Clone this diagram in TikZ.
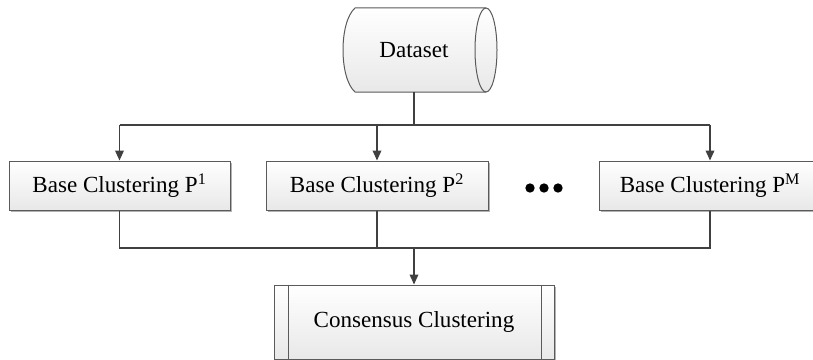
\documentclass[tikz,border=0pt]{standalone}
\usepackage{fontspec}
\setmainfont{Liberation Serif}
\usetikzlibrary{arrows.meta,shadows}
\definecolor{linec}{HTML}{404040}
\definecolor{edgec}{HTML}{5A5A5A}
\begin{document}
\begin{tikzpicture}[x=0.75pt,y=-0.75pt,
  every node/.style={font=\fontsize{17.3}{20}\selectfont, inner sep=0pt},
  boxst/.style={draw=edgec, line width=0.75pt, top color=white, bottom color=black!9,
    drop shadow={shadow xshift=1.5pt, shadow yshift=-1.5pt, fill=black!30, opacity=1}},
  conn/.style={draw=linec, line width=1.1pt},
  arr/.style={conn, -{Triangle[length=7.5pt,width=6.5pt]}}]
\useasboundingbox (0,0) rectangle (813,360);

% Dataset cylinder
\draw[edgec, line width=0.75pt, top color=white, bottom color=black!9]
  (355,8) -- (486,8) arc (-90:90:11 and 42) -- (355,92)
  .. controls (339,78) and (339,22) .. (355,8) -- cycle;
\draw[edgec, line width=0.75pt] (486,8) arc (270:90:11 and 42);
\node[minimum width=60pt, minimum height=84*0.75pt] (ds) at (414,50) {Dataset};

% Base clusterings
\node[boxst, minimum width=221*0.75pt, minimum height=49*0.75pt] (b1) at (119.5,185.5) {Base Clustering P\textsuperscript{1}};
\node[boxst, minimum width=222*0.75pt, minimum height=49*0.75pt] (b2) at (377,185.5) {Base Clustering P\textsuperscript{2}};
\node[boxst, minimum width=222*0.75pt, minimum height=49*0.75pt] (bM) at (710,185.5) {Base Clustering P\textsuperscript{M}};

% dots
\node[minimum size=0pt] (dots) at (544,188) {};
\fill (530,188) circle[radius=3.5pt];
\fill (dots) circle[radius=3.5pt];
\fill (558,188) circle[radius=3.5pt];

% Consensus
\node[boxst, minimum width=280*0.75pt, minimum height=74*0.75pt] (cons) at (414,322) {Consensus Clustering};
\draw[edgec, line width=0.75pt] ([xshift=11pt]cons.north west) -- ([xshift=11pt]cons.south west);
\draw[edgec, line width=0.75pt] ([xshift=-10pt]cons.north east) -- ([xshift=-10pt]cons.south east);

% connectors top
\coordinate (split) at (414,125);
\draw[conn] (ds.south) -- (split);
\draw[conn] (b1.north |- split) -- (bM.north |- split);
\draw[arr] (b1.north |- split) -- (b1.north);
\draw[arr] (b2.north |- split) -- (b2.north);
\draw[arr] (bM.north |- split) -- (bM.north);

% connectors bottom
\coordinate (join) at (414,248);
\draw[conn] (b1.south) -- (b1.south |- join) -- (bM.south |- join) -- (bM.south);
\draw[conn] (b2.south) -- (b2.south |- join);
\draw[arr] (join) -- (cons.north);
\end{tikzpicture}
\end{document}
